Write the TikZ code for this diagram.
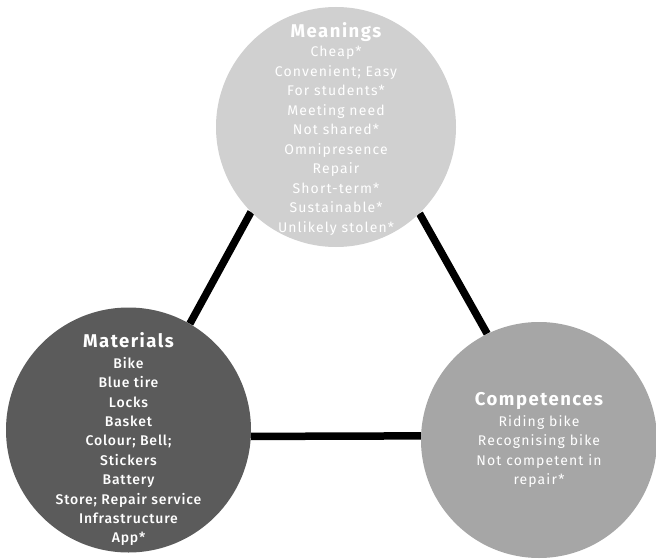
\documentclass[tikz,border=0pt]{standalone}
\usepackage{fontspec}
\setmainfont{Fira Sans}[LetterSpace=8]
\newfontfamily\medfont{Fira Sans Medium}[LetterSpace=6]
\definecolor{meanc}{HTML}{D0D0D0}
\definecolor{matc}{HTML}{5B5B5B}
\definecolor{compc}{HTML}{A6A6A6}
\begin{document}
\begin{tikzpicture}[x=1pt,y=-1pt,
  blob/.style={circle,inner sep=0pt,draw=none},
  link/.style={line width=7.5pt,black},
  txt/.style={text=white,align=center,font=\fontsize{14}{19.5}\selectfont,anchor=north,inner sep=0pt},
  ttl/.style={text=white,font=\fontsize{18.5}{20}\selectfont\bfseries,anchor=base,inner sep=0pt}]
\useasboundingbox (0,0) rectangle (656,559);
\path (336,127) node[blob,minimum size=240pt] (mean) {};
\path (128.5,430) node[blob,minimum size=245pt] (mat) {};
\path (539,440) node[blob,minimum size=236pt] (comp) {};
% links
\draw[link] (mean.225) -- (mat.60);
\draw[link] (mean.314) -- (comp.116);
\draw[link] (mat.357) -- (comp.178.5);
% fills
\fill[meanc] (mean.center) circle (120pt);
\fill[matc] (mat.center) circle (122.5pt);
\fill[compc] (comp.center) circle (118pt);
% texts
\node[ttl] (meant) at (336,38) {Meanings};
\node[txt] (meanb) at (336,46) {Cheap*\\Convenient; Easy\\For students*\\Meeting need\\Not shared*\\Omnipresence\\Repair\\Short-term*\\Sustainable*\\Unlikely stolen*};
\node[ttl] (matt) at (128.5,347) {Materials};
\node[txt,font=\fontsize{14}{19.4}\selectfont\medfont] (matb) at (128.5,357) {Bike\\Blue tire\\Locks\\Basket\\Colour; Bell;\\Stickers\\Battery\\Store; Repair service\\Infrastructure\\App*};
\node[ttl] (compt) at (539,405) {Competences};
\node[txt] (compb) at (539,415) {Riding bike\\Recognising bike\\Not competent in\\repair*};
\end{tikzpicture}
\end{document}
